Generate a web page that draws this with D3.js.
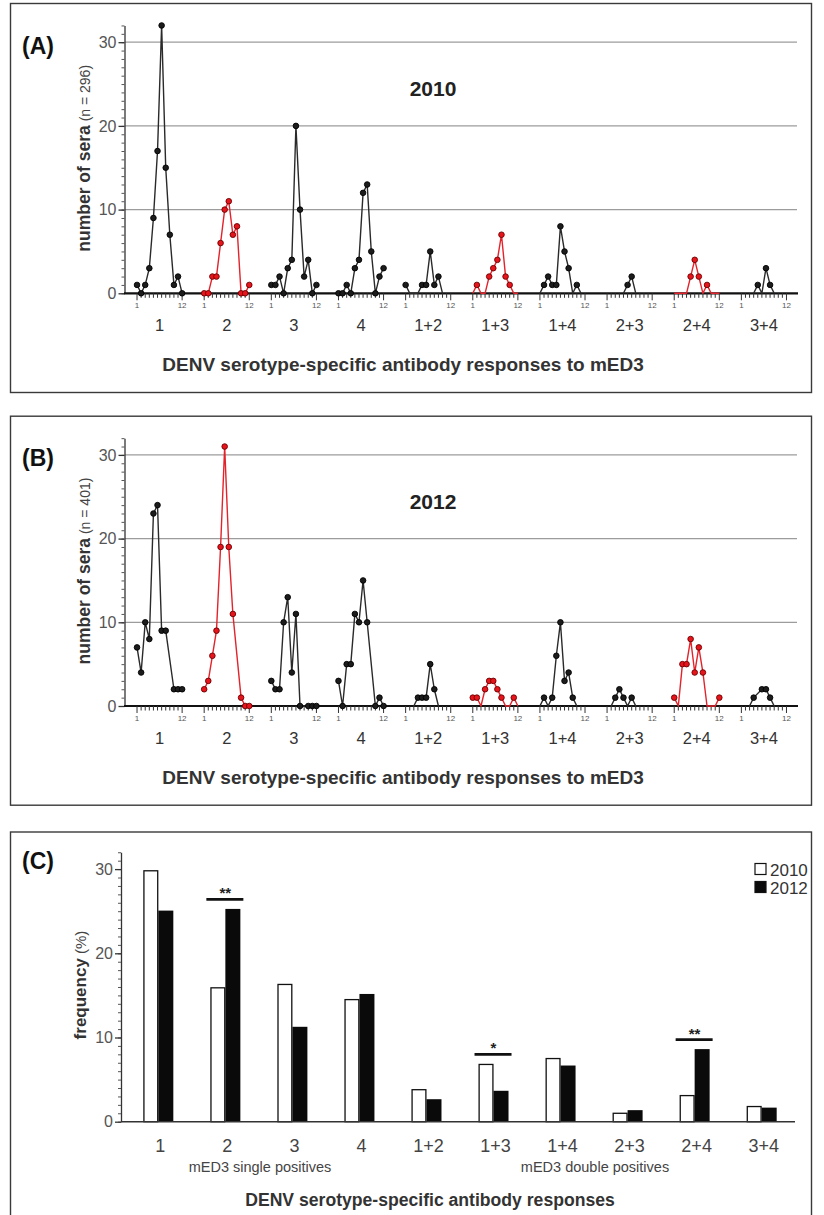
<!DOCTYPE html>
<html><head><meta charset="utf-8">
<script src="https://cdn.jsdelivr.net/npm/d3@7"></script>
<style>body{margin:0;background:#fff} svg{display:block}</style>
</head><body><svg id="c" width="824" height="1215"></svg>
<script>
// ---------------- data ----------------
const groups = ["1","2","3","4","1+2","1+3","1+4","2+3","2+4","3+4"];
const redGroups = ["2","1+3","2+4"];
const singleGroups = ["1","2","3","4"];
const months = [1,2,3,4,5,6,7,8,9,10,11,12];
const monthLabels = {1:"1", 12:"12"};
const yTicks = [0,10,20,30];
// monthly counts of sera, 2010 (n = 296); null = no point
const sera2010 = [
  [1,0,1,3,9,17,32,15,7,1,2,0],
  [0,0,2,2,6,10,11,7,8,0,0,1],
  [1,1,2,0,3,4,20,10,2,4,0,1],
  [0,0,1,0,3,4,12,13,5,0,2,3],
  [1,0,0,0,1,1,5,1,2,0,null,null],
  [0,1,0,0,2,3,4,7,2,1,0,0],
  [0,1,2,1,1,8,5,3,0,1,0,null],
  [null,null,null,null,0,1,2,0,null,null,null,null],
  [0,0,0,0,2,4,2,0,1,0,0,0],
  [null,null,null,0,1,0,3,1,0,null,null,null]
];
// monthly counts of sera, 2012 (n = 401)
const sera2012 = [
  [7,4,10,8,23,24,9,9,null,2,2,2],
  [2,3,6,9,19,31,19,11,null,1,0,0],
  [3,2,2,10,13,4,11,0,null,0,0,0],
  [3,0,5,5,11,10,15,10,null,0,1,0],
  [null,null,0,1,1,1,5,2,0,null,null,null],
  [1,1,0,2,3,3,2,1,0,0,1,0],
  [0,1,0,1,6,10,3,4,1,0,null,null],
  [null,0,1,2,1,0,1,0,null,null,null,null],
  [1,0,5,5,8,4,7,4,0,0,0,1],
  [null,null,0,1,null,2,2,1,0,null,null,null]
];
// frequency (%)
const years = ["2010","2012"];
const freq2010 = [29.8,15.9,16.3,14.5,3.8,6.8,7.5,1.0,3.1,1.8];
const freq2012 = [25.0,25.2,11.2,15.1,2.6,3.6,6.6,1.3,8.55,1.6];
const sigGroups = ["2","1+3","2+4"];
const sigLabels = ["**","*","**"];

// ---------------- drawing ----------------
const FONT = '"Liberation Sans", Arial, Helvetica, sans-serif';
const svg = d3.select("#c");

function styleText(sel, size, fill, weight){
  sel.attr("font-family",FONT).attr("font-size",size).attr("fill",fill||"#333").attr("font-weight",weight||"normal");
  return sel;
}

function linePanel(cfg){
  const g = svg.append("g");
  g.append("rect").attr("x",10.5).attr("y",cfg.boxTop).attr("width",801).attr("height",389)
    .attr("fill","none").attr("stroke","#3a3a3a").attr("stroke-width",1.4);
  styleText(g.append("text").attr("x",22).attr("y",cfg.boxTop+50).text(cfg.label),23,"#111","bold");

  const y = d3.scaleLinear([0,32],[cfg.y0, cfg.y0-32*8.37]);
  const xb = d3.scaleBand(groups,[126,797.5]);
  const xm = (grp,m) => xb(grp) + xb.bandwidth()/2 + (m-6.5)*4.1;

  // gridlines
  g.append("g").selectAll("line").data(yTicks.filter(d=>d>0)).join("line")
    .attr("x1",125).attr("x2",797).attr("y1",d=>y(d)).attr("y2",d=>y(d))
    .attr("stroke","#9c9c9c").attr("stroke-width",1.3);

  // y axis: minor ticks
  g.append("g").attr("transform","translate(124.5,0)")
    .call(d3.axisLeft(y).tickValues(d3.range(0,33)).tickSize(3).tickSizeOuter(0).tickFormat(""))
    .call(s=>{s.select(".domain").attr("stroke","#333").attr("stroke-width",1.3); s.selectAll(".tick line").attr("stroke","#555");});
  // y axis: major ticks
  g.append("g").attr("transform","translate(124.5,0)")
    .call(d3.axisLeft(y).tickValues(yTicks).tickSize(6).tickSizeOuter(0).tickPadding(2))
    .call(s=>{s.select(".domain").remove(); s.selectAll(".tick line").attr("stroke","#333").attr("stroke-width",1.3);
      styleText(s.selectAll("text"),16,"#555");});

  // y title
  const yt = g.append("text").attr("transform",`translate(90,${cfg.y0-135}) rotate(-90)`).attr("text-anchor","middle");
  styleText(yt.append("tspan").text("number of sera"),17.5,"#333","bold");
  styleText(yt.append("tspan").text(` (n = ${cfg.n})`),14,"#444");

  // year title
  styleText(g.append("text").attr("x",433).attr("y",cfg.y0-197).attr("text-anchor","middle").text(cfg.year),21,"#222","bold");

  // x axis line
  g.append("line").attr("x1",124).attr("x2",798).attr("y1",cfg.y0).attr("y2",cfg.y0)
    .attr("stroke","#111").attr("stroke-width",2.2);

  // month ticks
  groups.forEach(grp=>{
    const gg = g.append("g");
    gg.selectAll("line").data(months).join("line")
      .attr("x1",m=>xm(grp,m)).attr("x2",m=>xm(grp,m))
      .attr("y1",cfg.y0).attr("y2",m=>cfg.y0+(monthLabels[m]?7:4.5))
      .attr("stroke","#333").attr("stroke-width",1);
    styleText(gg.selectAll("text").data(months.filter(m=>monthLabels[m])).join("text")
      .attr("x",m=>xm(grp,m)).attr("y",cfg.y0+15).attr("text-anchor","middle").text(m=>monthLabels[m]),8,"#555");
    styleText(g.append("text").attr("x",xb(grp)+xb.bandwidth()/2).attr("y",cfg.y0+38)
      .attr("text-anchor","middle").text(grp),16.5,"#333");
  });

  // x title
  styleText(g.append("text").attr("x",403).attr("y",cfg.y0+78).attr("text-anchor","middle")
    .text("DENV serotype-specific antibody responses to mED3"),19,"#333","bold");

  // series
  const line = d3.line().x(d=>xm(d.g,d.m)).y(d=>y(d.v));
  cfg.data.forEach((vals,i)=>{
    const grp = groups[i];
    const red = redGroups.includes(grp);
    const pts = months.map((m,j)=>({g:grp,m:m,v:vals[j]})).filter(d=>d.v!==null);
    g.append("path").attr("d",line(pts)).attr("fill","none")
      .attr("stroke",red?"#e3232b":"#2a2a2a").attr("stroke-width",1.4).attr("stroke-linejoin","round");
    const dots = pts.filter(d=>d.v>0 || singleGroups.includes(grp));
    g.append("g").selectAll("circle").data(dots).join("circle")
      .attr("cx",d=>xm(d.g,d.m)).attr("cy",d=>y(d.v)).attr("r",2.8)
      .attr("fill",red?"#e8141c":"#1c1c1c").attr("stroke",red?"#6a0000":"#000").attr("stroke-width",0.9);
  });
}

linePanel({boxTop:3.5, y0:293.3, label:"(A)", year:"2010", n:296, data:sera2010});
linePanel({boxTop:416.2, y0:706, label:"(B)", year:"2012", n:401, data:sera2012});

// ---------------- panel C ----------------
(function(){
  const g = svg.append("g");
  const y0 = 1121.7;
  g.append("rect").attr("x",10.5).attr("y",832).attr("width",801).attr("height",420)
    .attr("fill","none").attr("stroke","#3a3a3a").attr("stroke-width",1.4);
  styleText(g.append("text").attr("x",22).attr("y",869).text("(C)"),23,"#111","bold");

  const y = d3.scaleLinear([0,32],[y0, y0-32*8.42]);
  const xb = d3.scaleBand(groups,[124.8,795.2]);
  const xc = grp => xb(grp)+xb.bandwidth()/2;
  const xy = d3.scaleBand(years,[-15,15]);

  g.append("g").attr("transform","translate(121,0)")
    .call(d3.axisLeft(y).tickValues(d3.range(0,33)).tickSize(3).tickSizeOuter(0).tickFormat(""))
    .call(s=>{s.select(".domain").attr("stroke","#333").attr("stroke-width",1.3); s.selectAll(".tick line").attr("stroke","#555");});
  g.append("g").attr("transform","translate(121,0)")
    .call(d3.axisLeft(y).tickValues(yTicks).tickSize(6).tickSizeOuter(0).tickPadding(2))
    .call(s=>{s.select(".domain").remove(); s.selectAll(".tick line").attr("stroke","#333").attr("stroke-width",1.3);
      styleText(s.selectAll("text"),16,"#555");});

  const yt = g.append("text").attr("transform",`translate(86,985) rotate(-90)`).attr("text-anchor","middle");
  styleText(yt.append("tspan").text("frequency"),17,"#333","bold");
  styleText(yt.append("tspan").text(" (%)"),15,"#444");

  const rows = groups.map((grp,i)=>({grp, v:[freq2010[i],freq2012[i]]}));
  rows.forEach(r=>{
    g.append("rect").attr("x",xc(r.grp)+xy("2010")+0.6).attr("width",xy.bandwidth()-1.2)
      .attr("y",y(r.v[0])).attr("height",y0-y(r.v[0]))
      .attr("fill","#fff").attr("stroke","#111").attr("stroke-width",1.3);
    g.append("rect").attr("x",xc(r.grp)+xy("2012")).attr("width",xy.bandwidth())
      .attr("y",y(r.v[1])-0.6).attr("height",y0-y(r.v[1])+0.6)
      .attr("fill","#0a0a0a");
    styleText(g.append("text").attr("x",xc(r.grp)+2).attr("y",1151.5).attr("text-anchor","middle").text(r.grp),18,"#444");
  });

  g.append("line").attr("x1",121).attr("x2",795).attr("y1",y0).attr("y2",y0).attr("stroke","#333").attr("stroke-width",1.6);

  sigGroups.forEach((grp,i)=>{
    const k = groups.indexOf(grp);
    const ly = y(Math.max(freq2010[k],freq2012[k])+1.2);
    g.append("line").attr("x1",xc(grp)-19).attr("x2",xc(grp)+18).attr("y1",ly).attr("y2",ly)
      .attr("stroke","#111").attr("stroke-width",2.6);
    styleText(g.append("text").attr("x",xc(grp)).attr("y",ly-1).attr("text-anchor","middle").text(sigLabels[i]),15,"#222","bold");
  });

  styleText(g.append("text").attr("x",260).attr("y",1171.5).attr("text-anchor","middle").text("mED3 single positives"),14.5,"#444");
  styleText(g.append("text").attr("x",595).attr("y",1171.5).attr("text-anchor","middle").text("mED3 double positives"),14.5,"#444");
  styleText(g.append("text").attr("x",430).attr("y",1206).attr("text-anchor","middle").text("DENV serotype-specific antibody responses"),17.6,"#333","bold");

  // legend
  years.forEach((yr,i)=>{
    g.append("rect").attr("x",755).attr("y",863.5+i*18).attr("width",11).attr("height",11)
      .attr("fill",i?"#0a0a0a":"#fff").attr("stroke","#111").attr("stroke-width",1.2);
    styleText(g.append("text").attr("x",770).attr("y",875.5+i*18).text(yr),17,"#333");
  });
})();
</script></body></html>
